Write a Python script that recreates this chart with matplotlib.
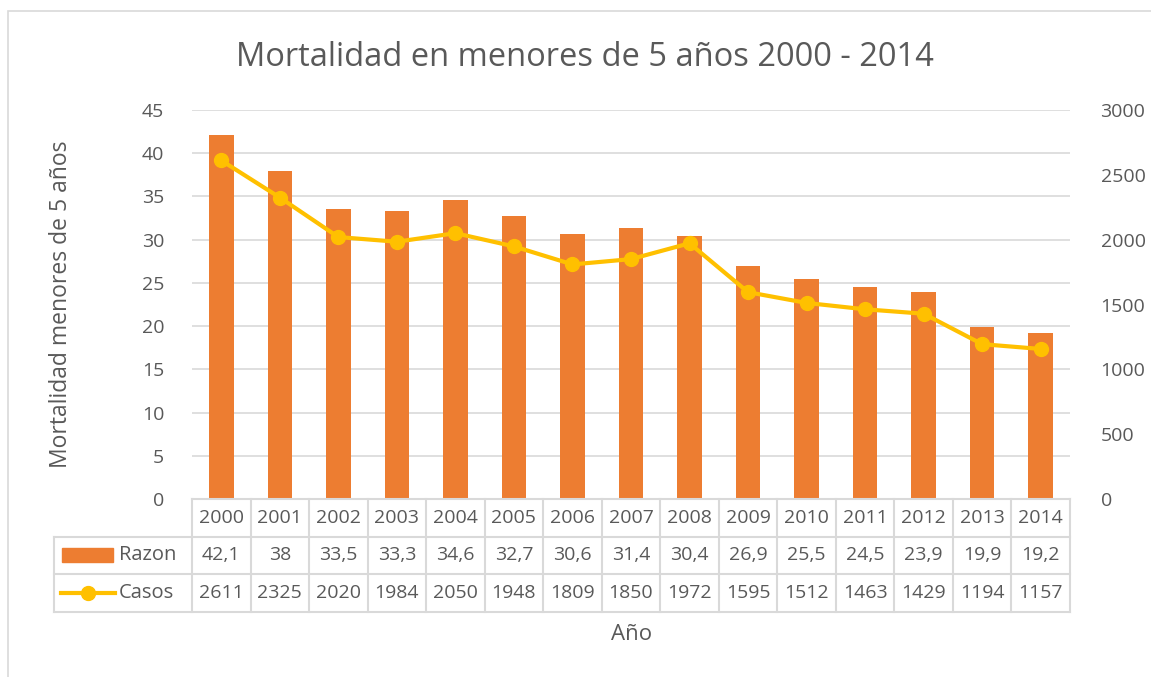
import matplotlib.pyplot as plt
from matplotlib.patches import Rectangle
from matplotlib.lines import Line2D

plt.rcParams['font.family'] = ['Open Sans', 'DejaVu Sans']

anios = ['2000', '2001', '2002', '2003', '2004', '2005', '2006', '2007',
         '2008', '2009', '2010', '2011', '2012', '2013', '2014']
razon = [42.1, 38, 33.5, 33.3, 34.6, 32.7, 30.6, 31.4, 30.4, 26.9, 25.5, 24.5, 23.9, 19.9, 19.2]
casos = [2611, 2325, 2020, 1984, 2050, 1948, 1809, 1850, 1972, 1595, 1512, 1463, 1429, 1194, 1157]

naranja = '#ED7D31'
amarillo = '#FFC000'
gris = '#595959'
rejilla = '#D9D9D9'

W, H = 1151, 677
fig = plt.figure(figsize=(W / 100, H / 100), dpi=100)

# plot area in pixels
x0, x1, ytop, ybot = 192, 1070, 110, 499
ax = fig.add_axes([x0 / W, 1 - ybot / H, (x1 - x0) / W, (ybot - ytop) / H])
ax2 = ax.twinx()

x = list(range(len(anios)))
ax.bar(x, razon, width=0.42, color=naranja, zorder=2)
ax2.plot(x, casos, color=amarillo, lw=3, marker='o', ms=10, zorder=3)

ax.set_xlim(-0.5, len(anios) - 0.5)
ax.set_ylim(0, 45)
ax.set_yticks(range(0, 46, 5))
ax2.set_ylim(0, 3000)
ax2.set_yticks(range(0, 3001, 500))
ax.set_xticks([])
ax.yaxis.grid(True, color=rejilla, lw=1.2, zorder=0)
ax.set_axisbelow(True)
for a in (ax, ax2):
    for s in a.spines.values():
        s.set_visible(False)
    a.tick_params(axis='y', length=0, labelsize=14, labelcolor=gris)
ax.tick_params(axis='y', pad=20)
ax2.tick_params(axis='y', pad=22)
ax.spines['bottom'].set_visible(True)
ax.spines['bottom'].set_color(rejilla)
ax.spines['bottom'].set_linewidth(1.5)
ax2.set_zorder(ax.get_zorder() + 1)
ax2.patch.set_visible(False)

ax.set_ylabel('Mortalidad menores de 5 años', fontsize=16.5, color=gris)
ax.yaxis.set_label_coords(-0.136, 0.5)

# data table below the plot area
def fy(py):
    return 1 - py / H
def fx(pxl):
    return pxl / W

col_w = (x1 - x0) / len(anios)
lk = dict(color=rejilla, lw=1.5, transform=fig.transFigure)
# horizontal lines
for yy in (537, 574, 612):
    fig.add_artist(Line2D([fx(54), fx(x1)], [fy(yy)] * 2, **lk))
# vertical lines
fig.add_artist(Line2D([fx(54)] * 2, [fy(537), fy(612)], **lk))
for i in range(len(anios) + 1):
    xx = x0 + i * col_w
    fig.add_artist(Line2D([fx(xx)] * 2, [fy(499), fy(612)], **lk))

tk = dict(transform=fig.transFigure, ha='center', va='center', fontsize=14, color=gris)
for i in range(len(anios)):
    cx = fx(x0 + (i + 0.5) * col_w)
    fig.text(cx, fy(518), anios[i], **tk)
    fig.text(cx, fy(555.5), f'{razon[i]:g}'.replace('.', ','), **tk)
    fig.text(cx, fy(593), str(casos[i]), **tk)

# legend keys inside table
fig.add_artist(Rectangle((fx(62), fy(562)), fx(113) - fx(62), fy(548) - fy(562),
                         color=naranja, transform=fig.transFigure))
fig.text(fx(119), fy(555.5), 'Razon', transform=fig.transFigure, ha='left', va='center',
         fontsize=14.5, color=gris)
fig.add_artist(Line2D([fx(61), fx(115)], [fy(593)] * 2, color=amarillo, lw=3,
                      transform=fig.transFigure))
fig.add_artist(Line2D([fx(88)], [fy(593)], color=amarillo, marker='o', ms=10,
                      transform=fig.transFigure))
fig.text(fx(119), fy(593), 'Casos', transform=fig.transFigure, ha='left', va='center',
         fontsize=14.5, color=gris)

fig.text(fx(632), fy(634), 'Año', transform=fig.transFigure, ha='center', va='center',
         fontsize=16, color=gris)

fig.text(fx(585), fy(57), 'Mortalidad en menores de 5 años 2000 - 2014',
         transform=fig.transFigure, ha='center', va='center', fontsize=23.5, color=gris)

# chart border
fig.add_artist(Rectangle((fx(8), -0.05), 1.1, fy(11) + 0.05, fill=False,
                         edgecolor=rejilla, lw=1.2, transform=fig.transFigure))

fig.savefig('out.png', dpi=100)
